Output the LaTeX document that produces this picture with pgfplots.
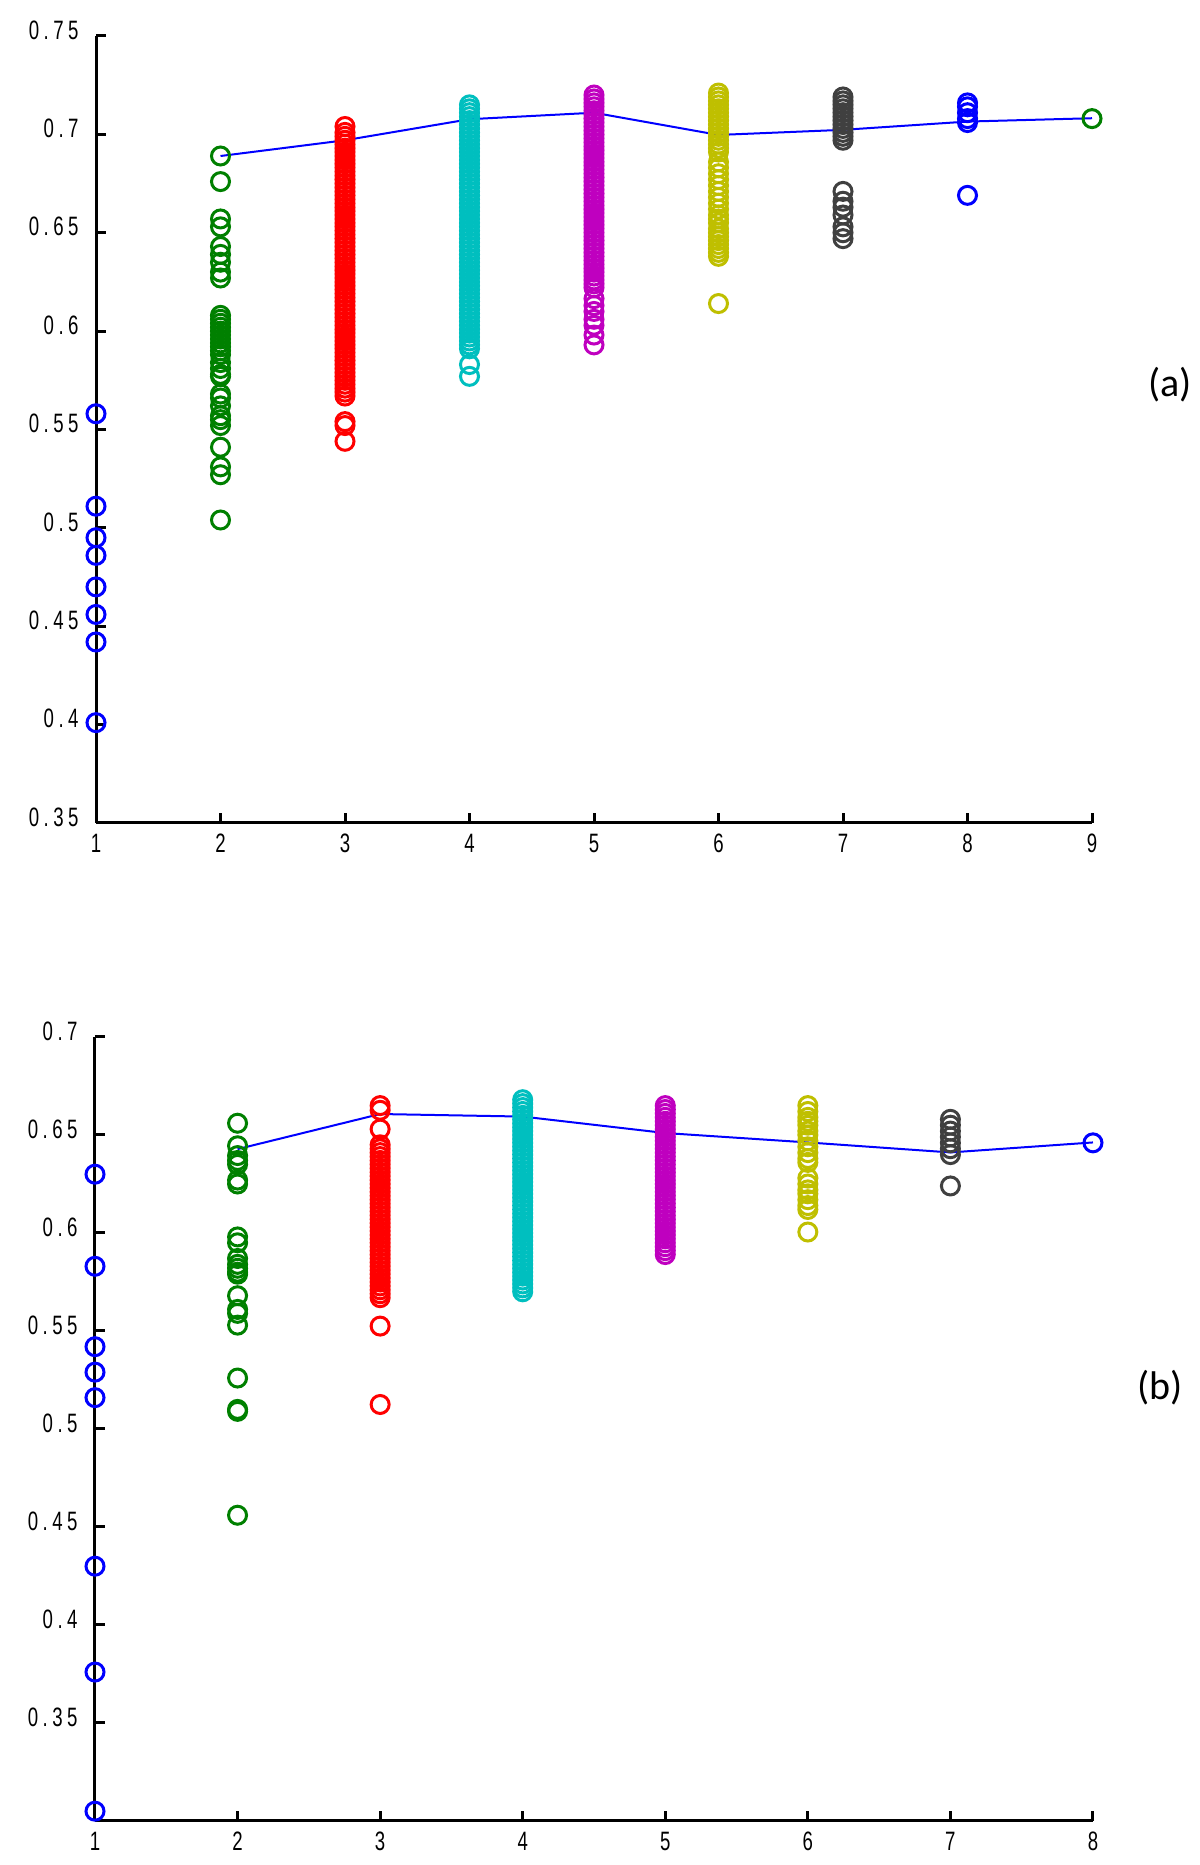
\documentclass[border=0pt]{standalone}
\usepackage{fontspec}
\usepackage{pgfplots}
\pgfplotsset{compat=1.18}
\setmainfont{Liberation Sans}
\newfontfamily\tickfont[FakeStretch=0.7,LetterSpace=17]{Liberation Sans}
\newfontfamily\labfont{Carlito}

\definecolor{mblue}{rgb}{0,0,1}
\definecolor{mgreen}{rgb}{0,0.5,0}
\definecolor{mred}{rgb}{1,0,0}
\definecolor{mcyan}{rgb}{0,0.75,0.75}
\definecolor{mmag}{rgb}{0.75,0,0.75}
\definecolor{myel}{rgb}{0.75,0.75,0}
\definecolor{mgray}{rgb}{0.25,0.25,0.25}

\pgfplotsset{
  panel/.style={
    scale only axis,
    clip=false,
    axis x line=bottom,
    axis y line=left,
    axis line style={-, line width=1.5pt, black},
    tick style={line width=1.5pt, black},
    tick align=inside,
    major tick length=5pt,
    ticklabel style={font=\tickfont\fontsize{13.3}{14}\selectfont},
    yticklabel style={anchor=east, inner sep=0pt, xshift=-8.5pt, yshift=3pt},
    xticklabel style={anchor=north, inner sep=0pt, yshift=-5.3pt},
  },
  circ/.style={only marks, mark=o, mark size=4.5pt, line width=1.5pt, color=#1},
  trend/.style={mblue, line width=1pt, no markers},
}

\begin{document}
\begin{tikzpicture}
\path (0,0) rectangle (600pt,932.5pt);

% ---------- panel (a)
\begin{axis}[panel,
  at={(48pt,521pt)}, anchor=south west,
  width=498pt, height=393.5pt,
  xmin=1, xmax=9, ymin=0.35, ymax=0.75,
  xtick={1,2,3,4,5,6,7,8,9},
  xticklabels={1,2,3,4,5,6,7,8,9},
  ytick={0.35,0.4,0.45,0.5,0.55,0.6,0.65,0.7,0.75},
  yticklabels={0.35,0.4,0.45,0.5,0.55,0.6,0.65,0.7,0.75},
]
\addplot[circ=mblue] coordinates {
  (1,0.558) (1,0.511) (1,0.495) (1,0.486) (1,0.470) (1,0.456) (1,0.442) (1,0.401)
};
\addplot[circ=mgreen] coordinates {
  (2,0.689) (2,0.676) (2,0.657) (2,0.653) (2,0.643) (2,0.639) (2,0.635) (2,0.630)
  (2,0.627) (2,0.608) (2,0.606) (2,0.604) (2,0.602) (2,0.600) (2,0.598) (2,0.596)
  (2,0.594) (2,0.592) (2,0.590) (2,0.588) (2,0.584) (2,0.581) (2,0.578) (2,0.577)
  (2,0.568) (2,0.566) (2,0.562) (2,0.557) (2,0.555) (2,0.552) (2,0.541) (2,0.531)
  (2,0.527) (2,0.504)
};
\addplot[circ=mred] coordinates {
  (3,0.704) (3,0.701) (3,0.699) (3,0.697) (3,0.695) (3,0.693) (3,0.691) (3,0.689)
  (3,0.687) (3,0.685) (3,0.683) (3,0.681) (3,0.679) (3,0.677) (3,0.675) (3,0.673)
  (3,0.671) (3,0.669) (3,0.667) (3,0.665) (3,0.663) (3,0.661) (3,0.659) (3,0.657)
  (3,0.655) (3,0.653) (3,0.651) (3,0.649) (3,0.647) (3,0.645) (3,0.643) (3,0.641)
  (3,0.639) (3,0.637) (3,0.635) (3,0.633) (3,0.631) (3,0.629) (3,0.627) (3,0.625)
  (3,0.623) (3,0.621) (3,0.619) (3,0.617) (3,0.615) (3,0.613) (3,0.611) (3,0.609)
  (3,0.607) (3,0.605) (3,0.603) (3,0.601) (3,0.599) (3,0.597) (3,0.595) (3,0.593)
  (3,0.591) (3,0.589) (3,0.587) (3,0.585) (3,0.583) (3,0.581) (3,0.579) (3,0.577)
  (3,0.575) (3,0.573) (3,0.571) (3,0.569) (3,0.567) (3,0.554) (3,0.552) (3,0.544)
};
\addplot[circ=mcyan] coordinates {
  (4,0.715) (4,0.713) (4,0.711) (4,0.709) (4,0.707) (4,0.705) (4,0.703) (4,0.701)
  (4,0.699) (4,0.697) (4,0.695) (4,0.693) (4,0.691) (4,0.689) (4,0.687) (4,0.685)
  (4,0.683) (4,0.681) (4,0.679) (4,0.677) (4,0.675) (4,0.673) (4,0.671) (4,0.669)
  (4,0.667) (4,0.665) (4,0.663) (4,0.661) (4,0.659) (4,0.657) (4,0.655) (4,0.653)
  (4,0.651) (4,0.649) (4,0.647) (4,0.645) (4,0.643) (4,0.641) (4,0.639) (4,0.637)
  (4,0.635) (4,0.633) (4,0.631) (4,0.629) (4,0.627) (4,0.625) (4,0.623) (4,0.621)
  (4,0.619) (4,0.617) (4,0.615) (4,0.613) (4,0.611) (4,0.609) (4,0.607) (4,0.605)
  (4,0.603) (4,0.601) (4,0.599) (4,0.597) (4,0.595) (4,0.593) (4,0.591) (4,0.583)
  (4,0.577)
};
\addplot[circ=mmag] coordinates {
  (5,0.720) (5,0.718) (5,0.716) (5,0.714) (5,0.712) (5,0.710) (5,0.708) (5,0.706)
  (5,0.704) (5,0.702) (5,0.700) (5,0.698) (5,0.696) (5,0.694) (5,0.692) (5,0.690)
  (5,0.688) (5,0.686) (5,0.684) (5,0.682) (5,0.680) (5,0.678) (5,0.676) (5,0.674)
  (5,0.672) (5,0.670) (5,0.668) (5,0.666) (5,0.664) (5,0.662) (5,0.660) (5,0.658)
  (5,0.656) (5,0.654) (5,0.652) (5,0.650) (5,0.648) (5,0.646) (5,0.644) (5,0.642)
  (5,0.640) (5,0.638) (5,0.636) (5,0.634) (5,0.632) (5,0.630) (5,0.628) (5,0.626)
  (5,0.624) (5,0.622) (5,0.6165) (5,0.613) (5,0.610) (5,0.606) (5,0.603) (5,0.598)
  (5,0.593)
};
\addplot[circ=myel] coordinates {
  (6,0.721) (6,0.719) (6,0.717) (6,0.715) (6,0.713) (6,0.711) (6,0.709) (6,0.707)
  (6,0.705) (6,0.703) (6,0.701) (6,0.699) (6,0.697) (6,0.695) (6,0.693) (6,0.691)
  (6,0.686) (6,0.683) (6,0.680) (6,0.677) (6,0.674) (6,0.671) (6,0.668) (6,0.665)
  (6,0.662) (6,0.659) (6,0.657) (6,0.655) (6,0.652) (6,0.650) (6,0.648) (6,0.646)
  (6,0.644) (6,0.642) (6,0.640) (6,0.638) (6,0.614)
};
\addplot[circ=mgray] coordinates {
  (7,0.719) (7,0.717) (7,0.715) (7,0.713) (7,0.711) (7,0.709) (7,0.707) (7,0.705)
  (7,0.703) (7,0.701) (7,0.699) (7,0.697) (7,0.671) (7,0.666) (7,0.663) (7,0.659)
  (7,0.653) (7,0.650) (7,0.647)
};
\addplot[circ=mblue] coordinates {
  (8,0.716) (8,0.714) (8,0.711) (8,0.708) (8,0.706) (8,0.669)
};
\addplot[circ=mgreen] coordinates {(9,0.708)};
\addplot[trend] coordinates {
  (2,0.689) (3,0.697) (4,0.7077) (5,0.711) (6,0.6997) (7,0.7023) (8,0.7065) (9,0.7082)
};
\end{axis}
\node[font=\labfont\fontsize{20}{24}\selectfont] at (585pt,740pt) {(a)};

% ---------- panel (b)
\begin{axis}[panel,
  at={(47.5pt,22pt)}, anchor=south west,
  width=499pt, height=392pt,
  xmin=1, xmax=8, ymin=0.3, ymax=0.7,
  xtick={1,2,3,4,5,6,7,8},
  xticklabels={1,2,3,4,5,6,7,8},
  ytick={0.35,0.4,0.45,0.5,0.55,0.6,0.65,0.7},
  yticklabels={0.35,0.4,0.45,0.5,0.55,0.6,0.65,0.7},
]
\addplot[circ=mblue] coordinates {
  (1,0.630) (1,0.583) (1,0.542) (1,0.529) (1,0.516) (1,0.430) (1,0.376) (1,0.305)
};
\addplot[circ=mgreen] coordinates {
  (2,0.656) (2,0.6445) (2,0.6395) (2,0.637) (2,0.635) (2,0.627) (2,0.625) (2,0.598)
  (2,0.595) (2,0.587) (2,0.584) (2,0.582) (2,0.580) (2,0.579) (2,0.568) (2,0.561)
  (2,0.559) (2,0.553) (2,0.526) (2,0.510) (2,0.509) (2,0.456)
};
\addplot[circ=mred] coordinates {
  (3,0.665) (3,0.6626) (3,0.653) (3,0.645) (3,0.643) (3,0.641) (3,0.639) (3,0.637)
  (3,0.635) (3,0.633) (3,0.631) (3,0.629) (3,0.627) (3,0.625) (3,0.623) (3,0.621)
  (3,0.619) (3,0.617) (3,0.615) (3,0.613) (3,0.611) (3,0.609) (3,0.607) (3,0.605)
  (3,0.603) (3,0.601) (3,0.599) (3,0.597) (3,0.595) (3,0.593) (3,0.591) (3,0.589)
  (3,0.587) (3,0.585) (3,0.583) (3,0.581) (3,0.579) (3,0.577) (3,0.575) (3,0.573)
  (3,0.571) (3,0.569) (3,0.567) (3,0.5525) (3,0.5125)
};
\addplot[circ=mcyan] coordinates {
  (4,0.668) (4,0.666) (4,0.664) (4,0.662) (4,0.660) (4,0.658) (4,0.656) (4,0.654)
  (4,0.652) (4,0.650) (4,0.648) (4,0.646) (4,0.644) (4,0.642) (4,0.640) (4,0.638)
  (4,0.636) (4,0.634) (4,0.632) (4,0.630) (4,0.628) (4,0.626) (4,0.624) (4,0.622)
  (4,0.620) (4,0.618) (4,0.616) (4,0.614) (4,0.612) (4,0.610) (4,0.608) (4,0.606)
  (4,0.604) (4,0.602) (4,0.600) (4,0.598) (4,0.596) (4,0.594) (4,0.592) (4,0.590)
  (4,0.588) (4,0.586) (4,0.584) (4,0.582) (4,0.580) (4,0.578) (4,0.576) (4,0.574)
  (4,0.572) (4,0.570)
};
\addplot[circ=mmag] coordinates {
  (5,0.665) (5,0.663) (5,0.661) (5,0.659) (5,0.657) (5,0.655) (5,0.653) (5,0.651)
  (5,0.649) (5,0.647) (5,0.645) (5,0.643) (5,0.641) (5,0.639) (5,0.637) (5,0.635)
  (5,0.633) (5,0.631) (5,0.629) (5,0.627) (5,0.625) (5,0.623) (5,0.621) (5,0.619)
  (5,0.617) (5,0.615) (5,0.613) (5,0.611) (5,0.609) (5,0.607) (5,0.605) (5,0.603)
  (5,0.601) (5,0.599) (5,0.597) (5,0.595) (5,0.593) (5,0.591) (5,0.589)
};
\addplot[circ=myel] coordinates {
  (6,0.665) (6,0.662) (6,0.659) (6,0.657) (6,0.655) (6,0.652) (6,0.650) (6,0.647)
  (6,0.644) (6,0.641) (6,0.638) (6,0.636) (6,0.628) (6,0.625) (6,0.622) (6,0.620)
  (6,0.617) (6,0.614) (6,0.612) (6,0.6005)
};
\addplot[circ=mgray] coordinates {
  (7,0.658) (7,0.655) (7,0.652) (7,0.649) (7,0.646) (7,0.643) (7,0.640) (7,0.624)
};
\addplot[circ=mblue] coordinates {(8,0.646)};
\addplot[trend] coordinates {
  (2,0.6428) (3,0.6607) (4,0.6594) (5,0.651) (6,0.6462) (7,0.6411) (8,0.6462)
};
\end{axis}
\node[font=\labfont\fontsize{20}{24}\selectfont] at (580pt,238.5pt) {(b)};
\end{tikzpicture}
\end{document}
